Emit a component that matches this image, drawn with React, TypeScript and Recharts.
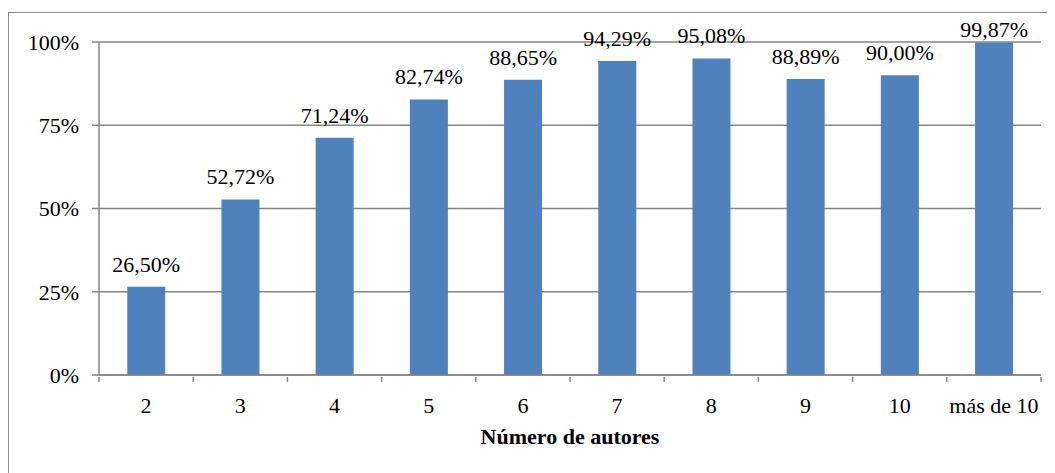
import React from 'react';
import { BarChart, Bar, XAxis, YAxis, CartesianGrid, LabelList } from 'recharts';

const categories = ['2', '3', '4', '5', '6', '7', '8', '9', '10', 'más de 10'];
const percentages = [26.5, 52.72, 71.24, 82.74, 88.65, 94.29, 95.08, 88.89, 90.0, 99.87];
const yTicks = [0, 25, 50, 75, 100];
const xAxisTitle = 'Número de autores';

const data = categories.map((c, i) => ({ name: c, value: percentages[i] }));

const FONT = "'Liberation Serif', 'Times New Roman', serif";
const GRAY = '#868686';
const WIDTH = 1047;
const HEIGHT = 465;
const MARGIN = { top: 34, right: 14, left: 0, bottom: 0 };
const Y_WIDTH = 91;
const BAND = (WIDTH - MARGIN.left - MARGIN.right - Y_WIDTH) / categories.length;

const fmt = (v: number) => v.toFixed(2).replace('.', ',') + '%';

const XTick = (props: any) => {
  const { x, y, payload, index } = props;
  const half = BAND / 2;
  const isLast = index === categories.length - 1;
  return (
    <g>
      <line x1={x - half} x2={x - half} y1={y - 6} y2={y - 1} stroke={GRAY} strokeWidth={1.5} />
      {isLast && (
        <line x1={x + half} x2={x + half} y1={y - 6} y2={y - 1} stroke={GRAY} strokeWidth={1.5} />
      )}
      <text x={x} y={y + 30} textAnchor="middle" style={{ fontFamily: FONT, fontSize: 22 }} fill="#000">
        {payload.value}
      </text>
    </g>
  );
};

const BarLabel = (props: any) => {
  const { x, y, width, value } = props;
  const baseline = Math.max(y - 15, 29);
  return (
    <text
      x={x + width / 2}
      y={baseline}
      textAnchor="middle"
      style={{ fontFamily: FONT, fontSize: 22 }}
      fill="#000"
    >
      {fmt(value)}
    </text>
  );
};

export default function App() {
  return (
    <div
      style={{
        position: 'relative',
        width: WIDTH,
        height: HEIGHT,
        overflow: 'hidden',
        background: '#fff',
        fontFamily: FONT,
      }}
    >
      <div
        style={{
          position: 'absolute',
          left: 0,
          top: 4,
          width: 1100,
          height: 520,
          border: '1.5px solid #8e8e8e',
          boxSizing: 'border-box',
        }}
      />
      <div style={{ position: 'absolute', left: 0, top: 0 }}>
        <BarChart width={WIDTH} height={HEIGHT} data={data} margin={MARGIN} barCategoryGap="30%">
          <CartesianGrid vertical={false} stroke={GRAY} strokeWidth={1.5} />
          <XAxis
            dataKey="name"
            height={98}
            axisLine={{ stroke: GRAY, strokeWidth: 1.5 }}
            tickLine={false}
            interval={0}
            tick={<XTick />}
            label={{
              value: xAxisTitle,
              position: 'insideBottom',
              offset: 29,
              fontFamily: FONT,
              fontSize: 22,
              fontWeight: 'bold',
              fill: '#000',
            }}
          />
          <YAxis
            width={Y_WIDTH}
            domain={[0, 100]}
            ticks={yTicks}
            tickFormatter={(v: number) => `${v}%`}
            axisLine={{ stroke: GRAY, strokeWidth: 1.5 }}
            tickLine={{ stroke: GRAY, strokeWidth: 1.5 }}
            tickSize={7}
            tickMargin={13}
            tick={{ fontFamily: FONT, fontSize: 22, fill: '#000' }}
          />
          <Bar dataKey="value" fill="#4F81BD" isAnimationActive={false}>
            <LabelList dataKey="value" content={<BarLabel />} />
          </Bar>
        </BarChart>
      </div>
    </div>
  );
}
